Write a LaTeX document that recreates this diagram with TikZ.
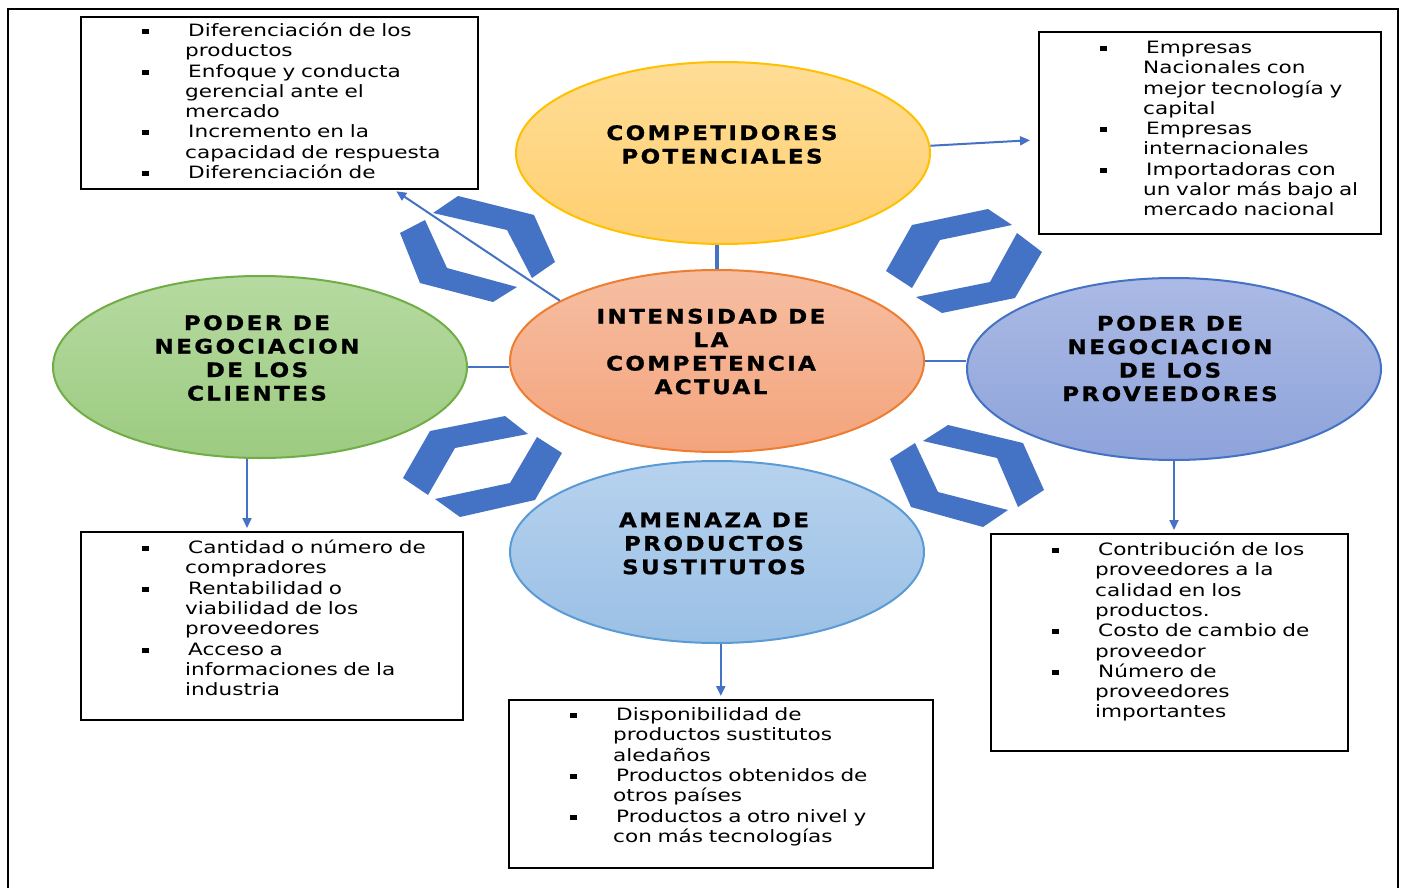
\documentclass[tikz,border=0pt]{standalone}
\usepackage{fontspec}
\usetikzlibrary{shapes.geometric,arrows.meta}
\newfontfamily\cajafont{DejaVu Sans}[FakeStretch=1.27]
\newfontfamily\titulofont{DejaVu Sans}[FakeStretch=1.15,LetterSpace=12,FakeBold=1]
\definecolor{azul}{HTML}{4472C4}
\definecolor{amarilloA}{HTML}{FFDD96}
\definecolor{amarilloB}{HTML}{FFCF70}
\definecolor{amarilloL}{HTML}{FFC000}
\definecolor{salmonA}{HTML}{F6BEA2}
\definecolor{salmonB}{HTML}{F4A47C}
\definecolor{salmonL}{HTML}{ED7D31}
\definecolor{verdeA}{HTML}{B6DAA1}
\definecolor{verdeB}{HTML}{9CCB80}
\definecolor{verdeL}{HTML}{70AD47}
\definecolor{moradoA}{HTML}{ABBAE5}
\definecolor{moradoB}{HTML}{8EA3DA}
\definecolor{celesteA}{HTML}{B7D2EE}
\definecolor{celesteB}{HTML}{9AC0E5}
\definecolor{celesteL}{HTML}{5B9BD5}
\newcommand{\vineta}[1]{\par\noindent\hangindent=105pt\hangafter=1%
  \hspace*{62pt}\makebox[46pt][l]{\rule[2.5pt]{7pt}{5pt}}#1\par}
\tikzset{
  elipse/.style={ellipse, minimum width=414pt, minimum height=182pt, line width=2pt},
  titulo/.style={font=\titulofont\bfseries\fontsize{20}{23.5}\selectfont, align=center, inner sep=0pt},
  caja/.style={draw=black, line width=1.6pt, anchor=north west, inner sep=0pt},
  lista/.style={font=\cajafont\fontsize{17}{20.3}\selectfont, align=left, inner sep=0pt, anchor=north west},
  enlace/.style={draw=azul, line width=2pt},
  flecha/.style={enlace, -{Triangle[length=10pt,width=9pt]}, shorten >=3pt},
  chevron/.style={fill=azul}
}
\begin{document}
\begin{tikzpicture}[x=1pt,y=-1pt]
  \useasboundingbox (0,0) rectangle (1403,888);

  % Dibuja el marco
  \draw[line width=2.5pt] (8,895) -- (8,9) -- (1398,9) -- (1398,895);

  % Dibuja las cinco fuerzas
  \node[elipse, draw=amarilloL, top color=amarilloA, bottom color=amarilloB] (comp) at (723,153) {};
  \node[elipse, draw=salmonL, top color=salmonA, bottom color=salmonB] (int) at (717,361) {};
  \node[elipse, draw=verdeL, top color=verdeA, bottom color=verdeB] (cli) at (260,367) {};
  \node[elipse, draw=azul, top color=moradoA, bottom color=moradoB] (prov) at (1174,369) {};
  \node[elipse, draw=celesteL, top color=celesteA, bottom color=celesteB] (sus) at (717,552) {};

  \node[titulo] (tcomp) at ([xshift=-1pt,yshift=8.5pt]comp.center) {COMPETIDORES\\POTENCIALES};
  \node[titulo] (tint) at ([xshift=-6pt,yshift=9.5pt]int.center) {INTENSIDAD DE\\LA\\COMPETENCIA\\ACTUAL};
  \node[titulo] (tcli) at ([xshift=-3pt,yshift=9pt]cli.center) {PODER DE\\NEGOCIACION\\DE LOS\\CLIENTES};
  \node[titulo] (tprov) at ([xshift=-4pt,yshift=10.5pt]prov.center) {PODER DE\\NEGOCIACION\\DE LOS\\PROVEEDORES};
  \node[titulo] (tsus) at ([xshift=-3pt,yshift=8.5pt]sus.center) {AMENAZA DE\\PRODUCTOS\\SUSTITUTOS};

  % Dibuja las cajas
  \node[caja, minimum width=397pt, minimum height=172pt] (cajaint) at (80,16) {};
  \node[caja, minimum width=342pt, minimum height=202pt] (cajacomp) at (1038,31) {};
  \node[caja, minimum width=382pt, minimum height=188pt] (cajacli) at (80,531) {};
  \node[caja, minimum width=424pt, minimum height=168pt] (cajasus) at (508,699) {};
  \node[caja, minimum width=357pt, minimum height=217pt] (cajaprov) at (990,533) {};

  \node[lista, text width=397pt] (txtint) at (cajaint.north west) {%
    \vineta{Diferenciación de los\newline productos}
    \vineta{Enfoque y conducta\newline gerencial ante el\newline mercado}
    \vineta{Incremento en la\newline capacidad de respuesta}
    \vineta{Diferenciación de}};
  \node[lista, text width=342pt] (txtcomp) at ([yshift=-2pt]cajacomp.north west) {%
    \vineta{Empresas\newline Nacionales con\newline mejor tecnología y\newline capital}
    \vineta{Empresas\newline internacionales}
    \vineta{Importadoras con\newline un valor más bajo al\newline mercado nacional}};
  \node[lista, text width=382pt] (txtcli) at ([yshift=-2pt]cajacli.north west) {%
    \vineta{Cantidad o número de\newline compradores}
    \vineta{Rentabilidad o\newline viabilidad de los\newline proveedores}
    \vineta{Acceso a\newline informaciones de la\newline industria}};
  \node[lista, text width=424pt] (txtsus) at ([yshift=-1pt]cajasus.north west) {%
    \vineta{Disponibilidad de\newline productos sustitutos\newline aledaños}
    \vineta{Productos obtenidos de\newline otros países}
    \vineta{Productos a otro nivel y\newline con más tecnologías}};
  \node[lista, text width=357pt] (txtprov) at ([yshift=-2pt]cajaprov.north west) {%
    \vineta{Contribución de los\newline proveedores a la\newline calidad en los\newline productos.}
    \vineta{Costo de cambio de\newline proveedor}
    \vineta{Número de\newline proveedores\newline importantes}};

  % Dibuja las flechas en forma de chevron
  \fill[chevron] (433,213) -- (458,196) -- (534,215) -- (555,262) -- (532,278) -- (507,230) -- cycle;
  \fill[chevron] (400,233) -- (425,220) -- (447,268) -- (517,287) -- (493,302) -- (420,283) -- cycle;
  \fill[chevron] (988,209) -- (1012,225) -- (940,240) -- (912,288) -- (886,271) -- (912,225) -- cycle;
  \fill[chevron] (1017,233) -- (1042,252) -- (1015,298) -- (942,313) -- (916,297) -- (990,282) -- cycle;
  \fill[chevron] (505,416) -- (528,434) -- (455,448) -- (428,495) -- (403,478) -- (430,431) -- cycle;
  \fill[chevron] (537,437) -- (562,453) -- (535,500) -- (460,517) -- (435,499) -- (510,483) -- cycle;
  \fill[chevron] (923,441) -- (948,425) -- (1023,443) -- (1044,490) -- (1018,507) -- (997,458) -- cycle;
  \fill[chevron] (890,459) -- (915,443) -- (938,492) -- (1008,510) -- (983,527) -- (911,507) -- cycle;

  % Dibuja las líneas que unen las fuerzas
  \draw[enlace, line width=4pt] (int.north |- comp.south) -- (int.north);
  \draw[enlace] (cli.east) -- (cli.east -| int.west);
  \draw[enlace] (int.east) -- (int.east -| prov.west);

  % Dibuja las flechas hacia las cajas
  \draw[flecha] (int.159) -- ([xshift=114.5pt]cajaint.south);
  \draw[flecha, shorten >=8pt] (comp.2) -- ([yshift=-7pt]cajacomp.west);
  \draw[flecha] ([xshift=-13pt]cli.south) -- ([xshift=-13pt]cli.south |- cajacli.north);
  \draw[flecha] (cajasus.north |- sus.south) -- (cajasus.north);
  \draw[flecha] (prov.south) -- (prov.south |- cajaprov.north);
\end{tikzpicture}
\end{document}
